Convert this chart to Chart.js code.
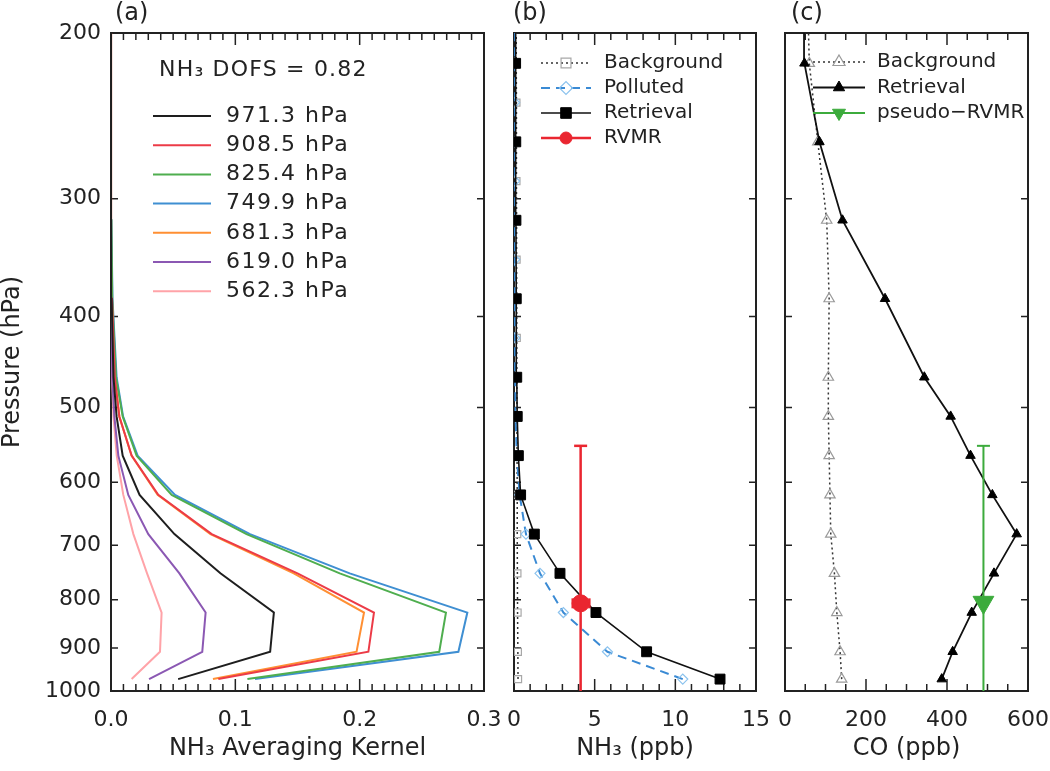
<!DOCTYPE html>
<html>
<head>
<meta charset="utf-8">
<script src="https://cdn.jsdelivr.net/npm/chart.js@4.4.1/dist/chart.umd.min.js"></script>
<style>
  html, body { margin: 0; padding: 0; background: #ffffff; }
  body { width: 1050px; height: 771px; position: relative; overflow: hidden; }
  canvas { position: absolute; top: 0; }
</style>
</head>
<body>
<canvas id="ca" width="500" height="771" style="left:0px"></canvas>
<canvas id="cb" width="270" height="771" style="left:500px"></canvas>
<canvas id="cc" width="280" height="771" style="left:770px"></canvas>
<script>
// ---------------- data ----------------
const levelsAll = [971.3, 908.5, 825.4, 749.9, 681.3, 619.0, 562.3, 510.9, 464.2, 421.7, 383.1, 348.1, 316.2, 287.3, 261.0, 237.1, 215.4, 195.7];
const levelsRet = [971.3, 908.5, 825.4, 749.9, 681.3, 619.0, 562.3, 510.9, 464.2, 383.1, 316.2, 261.0, 215.4, 177.8];

const yTicks = [200, 300, 400, 500, 600, 700, 800, 900, 1000];
const yTickLabels = ['200', '300', '400', '500', '600', '700', '800', '900', '1000'];

// (a) NH3 averaging kernel rows (on levelsRet)
const dofsNH3 = '0.82';
const akLabels = ['971.3 hPa', '908.5 hPa', '825.4 hPa', '749.9 hPa', '681.3 hPa', '619.0 hPa', '562.3 hPa'];
const ak971 = [0.054, 0.128, 0.131, 0.088, 0.051, 0.023, 0.0094, 0.0045, 0.002, 0.0005, 0.0001, 0, 0, 0];
const ak908 = [0.0863, 0.207, 0.2115, 0.150, 0.081, 0.038, 0.0166, 0.0067, 0.003, 0.0008, 0.0002, 0, 0, 0];
const ak825 = [0.1097, 0.264, 0.2694, 0.184, 0.109, 0.0488, 0.0206, 0.0094, 0.004, 0.001, 0.0003, 0, 0, 0];
const ak749 = [0.1158, 0.2794, 0.2866, 0.192, 0.1118, 0.0515, 0.0214, 0.0097, 0.0045, 0.0012, 0.0003, 0, 0, 0];
const ak681 = [0.082, 0.1975, 0.2035, 0.147, 0.080, 0.0375, 0.0165, 0.0067, 0.003, 0.0008, 0.0002, 0, 0, 0];
const ak619 = [0.0306, 0.0734, 0.0761, 0.055, 0.030, 0.0139, 0.0059, 0.0027, 0.001, 0.0003, 0, 0, 0, 0];
const ak562 = [0.0166, 0.0394, 0.0407, 0.029, 0.018, 0.0099, 0.0046, 0.002, 0.0008, 0.0002, 0, 0, 0, 0];
const xTicksA = [0, 0.1, 0.2, 0.3];
const xTickLabelsA = ['0.0', '0.1', '0.2', '0.3'];

// (b) NH3 profiles (ppb)
const nh3Background = [0.25, 0.24, 0.22, 0.21, 0.2, 0.2, 0.19, 0.18, 0.18, 0.17, 0.17, 0.16, 0.16, 0.15, 0.15, 0.15, 0.14, 0.14]; // levelsAll
const nh3Polluted = [10.46, 5.79, 3.06, 1.61, 0.74, 0.35, 0.17, 0.1, 0.07, 0.06, 0.05, 0.05, 0.05, 0.04, 0.04, 0.04, 0.04, 0.04]; // levelsAll
const nh3Retrieval = [12.77, 8.22, 5.08, 2.85, 1.26, 0.41, 0.27, 0.2, 0.17, 0.14, 0.12, 0.11, 0.1, 0.1]; // levelsRet
const rvmrValue = 4.13;
const rvmrPressure = 807;
const rvmrValueRange = [3.64, 4.67];
const rvmrPressureRange = [549, 1000];
const xTicksB = [0, 5, 10, 15];
const xTickLabelsB = ['0', '5', '10', '15'];

// (c) CO profiles (ppb) on levelsRet
const coBackground = [140, 136, 128, 122, 113, 111, 109, 107, 107, 109, 103, 81, 60, 55];
const coRetrieval = [387, 414, 461, 516, 572, 512, 458, 409, 344, 247, 142, 85, 48, 47];
const pseudoRvmrValue = 490;
const pseudoRvmrPressure = 805;
const pseudoRvmrPressureRange = [549, 1000];
const xTicksC = [0, 200, 400, 600];
const xTickLabelsC = ['0', '200', '400', '600'];

// ---------------- helpers ----------------
const FONT = '"DejaVu Sans", sans-serif';
const INK = '#222222';
Chart.defaults.font.family = FONT;
Chart.defaults.font.size = 22;
Chart.defaults.color = INK;

const pts = (xs, ps) => xs.map((v, i) => ({ x: v, y: ps[i] }));

const framePlugin = {
  id: 'frame',
  beforeDatasetsDraw(chart, args, o) {
    const { ctx, chartArea: { left, right, top, bottom }, scales: { x, y } } = chart;
    ctx.save();
    ctx.strokeStyle = INK;
    ctx.lineWidth = 2;
    ctx.strokeRect(left, top, right - left, bottom - top);
    ctx.lineWidth = 1.5;
    ctx.beginPath();
    const n = Math.round((x.max - x.min) / o.minor);
    for (let i = 0; i <= n; i++) {
      const px = x.getPixelForValue(x.min + i * o.minor);
      const len = (i % o.per === 0) ? 12 : 7;
      ctx.moveTo(px, bottom); ctx.lineTo(px, bottom - len);
      ctx.moveTo(px, top); ctx.lineTo(px, top + len);
    }
    yTicks.forEach(v => {
      const py = y.getPixelForValue(v);
      ctx.moveTo(left, py); ctx.lineTo(left + 7, py);
      ctx.moveTo(right, py); ctx.lineTo(right - 7, py);
    });
    ctx.stroke();
    ctx.fillStyle = INK;
    ctx.font = '24px ' + FONT;
    ctx.textBaseline = 'middle';
    ctx.textAlign = 'left';
    ctx.fillText(o.title, o.titleX, 14);
    ctx.restore();
  }
};

const legendPlugin = {
  id: 'inlegend',
  afterDraw(chart, args, o) {
    const ctx = chart.ctx;
    ctx.save();
    ctx.textBaseline = 'middle';
    ctx.textAlign = 'left';
    if (o.header) {
      ctx.font = o.fontSize + 'px ' + FONT;
      ctx.letterSpacing = o.headerSpacing + 'px';
      ctx.fillStyle = INK;
      ctx.fillText(o.header, o.headerX, o.headerY);
    }
    o.items.forEach((it, i) => {
      const ds = chart.data.datasets[it.ds];
      const y = o.y0 + i * o.dy;
      ctx.strokeStyle = ds.borderColor;
      ctx.lineWidth = ds.borderWidth;
      ctx.setLineDash(ds.borderDash || []);
      ctx.beginPath(); ctx.moveTo(o.x0, y); ctx.lineTo(o.x1, y); ctx.stroke();
      ctx.setLineDash([]);
      if (it.r) {
        ctx.fillStyle = ds.pointBackgroundColor;
        ctx.strokeStyle = ds.pointBorderColor;
        ctx.lineWidth = ds.pointBorderWidth;
        Chart.helpers.drawPoint(ctx, { pointStyle: ds.pointStyle, radius: it.r, rotation: ds.pointRotation || 0, borderWidth: ds.pointBorderWidth }, (o.x0 + o.x1) / 2, y);
      }
      ctx.font = o.fontSize + 'px ' + FONT;
      ctx.letterSpacing = o.spacing + 'px';
      ctx.fillStyle = INK;
      ctx.fillText(ds.label, o.tx, y);
    });
    ctx.restore();
  }
};

function makeOptions(p) {
  return {
    responsive: false,
    animation: false,
    events: [],
    layout: { padding: p.pad },
    plugins: {
      legend: { display: false },
      tooltip: { enabled: false },
      frame: p.frame,
      inlegend: p.legend
    },
    scales: {
      x: {
        type: 'linear', min: p.xMin, max: p.xMax,
        grid: { display: false, drawTicks: false },
        border: { display: false },
        afterBuildTicks: s => { s.ticks = p.xTicks.map(v => ({ value: v })); },
        afterFit: s => { s.height = 80; s.paddingLeft = 0; s.paddingRight = 0; },
        ticks: { padding: 16, autoSkip: false, maxRotation: 0, minRotation: 0, callback: (v, i) => p.xLabels[i] },
        title: { display: true, text: p.xTitle, font: { size: 24, lineHeight: 1.1 }, padding: { top: 0, bottom: 9 } }
      },
      y: {
        type: 'logarithmic', reverse: true, min: 200, max: 1000,
        display: p.showY,
        grid: { display: false, drawTicks: false },
        border: { display: false },
        afterBuildTicks: s => { s.ticks = yTicks.map(v => ({ value: v })); },
        afterFit: s => { s.width = p.yWidth || 0; s.paddingTop = 0; s.paddingBottom = 0; },
        ticks: { padding: 10, autoSkip: false, callback: (v, i) => yTickLabels[i] },
        title: { display: true, text: 'Pressure (hPa)', font: { size: 24, lineHeight: 1.1 }, padding: { top: 0, bottom: 0 } }
      }
    }
  };
}

function akLine(label, vals, color) {
  return { label, data: pts(vals, levelsRet), borderColor: color, borderWidth: 2, pointRadius: 0, fill: false };
}

// ---------------- panel (a) ----------------
new Chart(document.getElementById('ca'), {
  type: 'line',
  data: {
    datasets: [
      akLine(akLabels[0], ak971, '#1e1e1e'),
      akLine(akLabels[1], ak908, '#ec3b47'),
      akLine(akLabels[2], ak825, '#4fae4f'),
      akLine(akLabels[3], ak749, '#3f8fd2'),
      akLine(akLabels[4], ak681, '#ff8f33'),
      akLine(akLabels[5], ak619, '#8b58b3'),
      akLine(akLabels[6], ak562, '#ffa3a8')
    ]
  },
  options: makeOptions({
    pad: { left: 0, right: 16, top: 33, bottom: 0 },
    xMin: 0, xMax: 0.3, xTicks: xTicksA, xLabels: xTickLabelsA,
    xTitle: 'NH\u2083 Averaging Kernel', showY: true, yWidth: 111,
    frame: { minor: 0.01, per: 10, title: '(a)', titleX: 115 },
    legend: {
      header: 'NH\u2083 DOFS = ' + dofsNH3, headerX: 159, headerY: 70, headerSpacing: 1.2,
      fontSize: 22, spacing: 1.5,
      x0: 153, x1: 211, tx: 226, y0: 116, dy: 29.2,
      items: [{ ds: 0 }, { ds: 1 }, { ds: 2 }, { ds: 3 }, { ds: 4 }, { ds: 5 }, { ds: 6 }]
    }
  }),
  plugins: [framePlugin, legendPlugin]
});

// ---------------- panel (b) ----------------
const RED = '#ea2630';
new Chart(document.getElementById('cb'), {
  type: 'line',
  data: {
    datasets: [
      { label: 'RVMR', data: [{ x: rvmrValue, y: rvmrPressure }], borderColor: RED, borderWidth: 2.5, showLine: false,
        pointStyle: 'circle', pointRadius: 8.5, pointBackgroundColor: RED, pointBorderColor: RED, pointBorderWidth: 1 },
      { label: 'rvmr-v', data: [{ x: rvmrValue, y: rvmrPressureRange[0] }, { x: rvmrValue, y: rvmrPressureRange[1] }],
        borderColor: RED, borderWidth: 2.5, pointStyle: 'line', pointRadius: [6.5, 0], pointBorderColor: RED, pointBorderWidth: 2.5 },
      { label: 'rvmr-h', data: [{ x: rvmrValueRange[0], y: rvmrPressure }, { x: rvmrValueRange[1], y: rvmrPressure }],
        borderColor: RED, borderWidth: 2.5, pointStyle: 'line', pointRotation: 90, pointRadius: 5, pointBorderColor: RED, pointBorderWidth: 2.5 },
      { label: 'Retrieval', data: pts(nh3Retrieval, levelsRet), borderColor: '#111111', borderWidth: 1.6,
        pointStyle: 'rect', pointRadius: 7, pointBackgroundColor: '#000000', pointBorderColor: '#000000', pointBorderWidth: 1 },
      { label: 'Polluted', data: pts(nh3Polluted, levelsAll), borderColor: '#3a8ad4', borderWidth: 2, borderDash: [9, 6],
        pointStyle: 'rectRot', pointRadius: 5, pointBackgroundColor: 'rgba(0,0,0,0)', pointBorderColor: '#8cc3ee', pointBorderWidth: 1.2 },
      { label: 'Background', data: pts(nh3Background, levelsAll), borderColor: '#333333', borderWidth: 1.5, borderDash: [2, 3],
        pointStyle: 'rect', pointRadius: 5, pointBackgroundColor: 'rgba(0,0,0,0)', pointBorderColor: '#a8a8a8', pointBorderWidth: 1.2 }
    ]
  },
  options: makeOptions({
    pad: { left: 14, right: 14, top: 33, bottom: 0 },
    xMin: 0, xMax: 15, xTicks: xTicksB, xLabels: xTickLabelsB,
    xTitle: 'NH\u2083 (ppb)', showY: false,
    frame: { minor: 1, per: 5, title: '(b)', titleX: 13 },
    legend: {
      fontSize: 20, spacing: 0,
      x0: 41, x1: 91, tx: 104, y0: 63, dy: 25,
      items: [{ ds: 5, r: 7 }, { ds: 4, r: 6.5 }, { ds: 3, r: 7.5 }, { ds: 0, r: 6 }]
    }
  }),
  plugins: [framePlugin, legendPlugin]
});

// ---------------- panel (c) ----------------
const GREEN = '#3cab3c';
new Chart(document.getElementById('cc'), {
  type: 'line',
  data: {
    datasets: [
      { label: 'pseudo\u2212RVMR', data: [{ x: pseudoRvmrValue, y: pseudoRvmrPressure }], borderColor: GREEN, borderWidth: 2, showLine: false,
        pointStyle: 'triangle', pointRotation: 180, pointRadius: 12, pointBackgroundColor: GREEN, pointBorderColor: GREEN, pointBorderWidth: 1 },
      { label: 'pseudo-v', data: [{ x: pseudoRvmrValue, y: pseudoRvmrPressureRange[0] }, { x: pseudoRvmrValue, y: pseudoRvmrPressureRange[1] }],
        borderColor: GREEN, borderWidth: 2, pointStyle: 'line', pointRadius: [6.5, 0], pointBorderColor: GREEN, pointBorderWidth: 2 },
      { label: 'Retrieval', data: pts(coRetrieval, levelsRet), borderColor: '#111111', borderWidth: 1.8,
        pointStyle: 'triangle', pointRadius: 5.5, pointBackgroundColor: '#000000', pointBorderColor: '#000000', pointBorderWidth: 1 },
      { label: 'Background', data: pts(coBackground, levelsRet), borderColor: '#333333', borderWidth: 1.5, borderDash: [2, 3],
        pointStyle: 'triangle', pointRadius: 6, pointBackgroundColor: 'rgba(0,0,0,0)', pointBorderColor: '#9a9a9a', pointBorderWidth: 1.2 }
    ]
  },
  options: makeOptions({
    pad: { left: 15, right: 22, top: 33, bottom: 0 },
    xMin: 0, xMax: 600, xTicks: xTicksC, xLabels: xTickLabelsC,
    xTitle: 'CO (ppb)', showY: false,
    frame: { minor: 50, per: 4, title: '(c)', titleX: 21 },
    legend: {
      fontSize: 20, spacing: 0,
      x0: 43, x1: 95, tx: 107, y0: 62, dy: 25.5,
      items: [{ ds: 3, r: 7 }, { ds: 2, r: 6.5 }, { ds: 0, r: 7.5 }]
    }
  }),
  plugins: [framePlugin, legendPlugin]
});
</script>
</body>
</html>
